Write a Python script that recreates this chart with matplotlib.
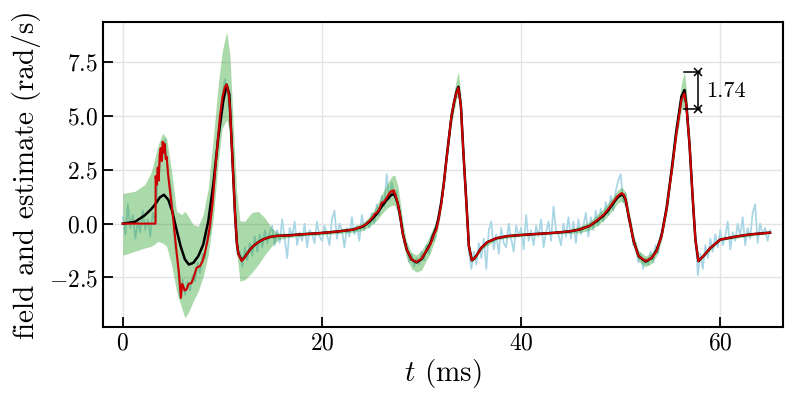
import numpy as np
import matplotlib
matplotlib.use("Agg")
import matplotlib.pyplot as plt

plt.rcParams['font.family'] = 'serif'
plt.rcParams['font.serif'] = ['cmr10']
plt.rcParams['mathtext.fontset'] = 'cm'
plt.rcParams['axes.formatter.use_mathtext'] = True

# noisy measurement, sampled every 0.25 ms from 0 to 65 ms
t_meas = np.arange(0, 65.01, 0.25)
meas = [
    0.3, -0.5, 0.9, -0.2, 0.4, -0.7, 0.1, -0.4, 0.6, -0.3, 0.2, -0.6, 0.5, 0.1, 2.0, 2.9, 3.1, 3.9, 2.4, 1.9,
    0.8, -1.1, -1.7, -3.5, -2.6, -3.3, -2.7, -3.1, -2.4, -2.7, -1.8, -2.3, -1.4, -1.6, -0.4, -0.5, 1.1, 2.1, 4.0, 4.8,
    6.0, 6.7, 6.1, 5.2, 3.4, 0.2, -1.4, -1.3, -2.0, -1.1, -1.7, -0.9, -1.5, -0.6, -1.3, -0.5, -1.1, -0.3, -0.9, -0.4,
    -0.1, -1.0, -0.3, -0.9, 0.2, -0.7, -1.6, -0.2, -0.6, 0.1, -1.0, -0.4, -0.8, 0.0, -1.1, -0.3, -0.5, -0.9, 0.1, -0.6,
    -0.8, -0.1, -0.5, -1.0, 0.2, 0.6, -0.7, 0.0, -0.3, -1.1, -0.2, -0.6, 0.3, -0.5, -0.1, -0.8, 0.4, -0.3, 0.1, -0.2,
    0.5, 0.0, 0.9, 0.4, 1.3, 0.8, 2.3, 1.1, 1.9, 1.2, 1.5, 0.3, 0.2, -0.9, -0.9, -1.8, -1.4, -2.0, -1.6, -1.9,
    -1.3, -1.7, -1.0, -1.4, -0.5, -0.8, 0.0, 0.1, 1.3, 1.7, 3.2, 3.8, 5.2, 5.4, 6.3, 6.1, 5.4, 2.7, 1.3, -1.3,
    -2.1, -1.3, -1.9, -0.9, -1.6, -0.7, -2.1, -0.3, 0.1, -1.2, -0.5, -1.4, -0.2, -0.9, -1.1, 0.0, -0.7, -1.3, -0.1, -0.6,
    -0.2, -1.2, 0.4, -0.8, -0.3, -1.0, -0.1, -0.6, 0.2, -1.1, -0.4, 0.1, -0.8, 0.8, -0.3, -0.5, -1.0, 0.0, -0.6, 0.3,
    -0.7, 0.1, -0.9, 0.2, -0.5, -0.1, 0.5, -0.6, 0.3, -0.3, 0.6, -0.1, 0.7, 0.1, 1.0, 0.4, 1.3, 0.6, 1.5, 2.0,
    2.3, 1.0, 1.4, 0.2, 0.1, -1.0, -0.9, -1.8, -1.4, -2.1, -1.6, -1.9, -1.3, -1.8, -1.0, -1.4, -0.5, -0.3, 0.6, 0.8,
    2.1, 2.6, 4.2, 4.4, 5.6, 5.7, 6.2, 4.3, 3.3, 0.7, -0.5, -2.4, -1.4, -2.1, -1.0, -1.6, -0.7, -1.3, -0.5, -1.1,
    -0.3, -1.0, -0.6, 0.1, -1.2, -0.4, -0.8, 0.0, -0.6, 0.3, -1.0, -0.2, -0.7, 0.5, 0.9, -0.9, 0.0, -0.5, -0.2, -0.8, -0.3,
]

# true field
t_field = [0, 3.28, 3.29, 3.4, 3.5, 3.6, 3.7, 3.8, 3.9, 4.0, 4.1, 4.2, 4.3, 4.4, 4.56, 4.79, 5.06, 5.33, 5.63, 5.83,
           5.95, 6.06, 6.2, 6.4, 6.6, 6.9, 7.1, 7.4, 7.74, 8.0, 8.24, 8.5, 8.74, 9.0, 9.25, 9.5, 9.75, 10.0, 10.25, 10.42,
           10.6, 10.75, 11.0, 11.26, 11.45, 11.6, 11.93, 12.2, 12.43, 12.75, 13.1, 13.6, 14.1, 14.77, 15.45, 16.78, 17.8, 19.8, 21.5, 23.1,
           24.1, 24.5, 24.8, 25.1, 25.3, 25.5, 25.7, 26.0, 26.2, 26.5, 26.8, 27.0, 27.1, 27.2, 27.4, 27.6, 27.8, 28.1, 28.5, 29.0,
           29.5, 30.0, 30.5, 30.9, 31.2, 31.5, 31.75, 32.0, 32.25, 32.5, 32.75, 33.0, 33.25, 33.5, 33.7, 33.95, 34.2, 34.5, 34.75, 35.05,
           35.3, 35.56, 36.0, 36.6, 37.5, 38.6, 39.9, 41.5, 43.2, 44.9, 45.9, 46.9, 47.6, 48.3, 48.8, 49.3, 49.7, 50.1, 50.3, 50.5,
           50.8, 51.3, 51.8, 52.5, 53.1, 53.6, 54.1, 54.6, 55.1, 55.6, 56.1, 56.4, 56.6, 56.9, 57.2, 57.5, 57.8, 58.3, 59.0, 60.0,
           61.7, 63.0, 64.7, 65.0]
field = [0, 0, 2.2, 1.8, 2.6, 2.0, 3.2, 3.5, 2.9, 3.8, 3.3, 3.7, 3.0, 3.1, 2.2, 1.3, 0.2, -1.05, -2.3, -3.44,
         -2.8, -2.9, -3.1, -3.05, -2.8, -2.75, -2.5, -2.05, -1.97, -1.75, -1.35, -0.8, -0.1, 0.9, 2.36, 3.7, 4.98, 5.85, 6.35, 6.45,
         6.1, 5.45, 2.98, 0.5, -0.9, -1.4, -1.73, -1.6, -1.42, -1.22, -1.04, -0.86, -0.73, -0.62, -0.57, -0.55, -0.5, -0.44, -0.37, -0.28,
         -0.12, 0.0, 0.15, 0.3, 0.45, 0.5, 0.62, 0.97, 1.0, 1.2, 1.44, 1.52, 1.45, 1.55, 1.29, 0.95, 0.5, -0.44, -1.2, -1.67,
         -1.78, -1.62, -1.25, -0.95, -0.55, -0.25, 0.3, 0.97, 1.9, 2.98, 4.0, 4.99, 5.6, 6.07, 6.3, 5.45, 3.3, 0.97, -1.04, -1.7,
         -1.62, -1.45, -1.12, -0.86, -0.68, -0.58, -0.53, -0.48, -0.43, -0.36, -0.27, -0.1, 0.15, 0.42, 0.7, 1.03, 1.28, 1.42, 1.35, 1.11,
         0.34, -0.82, -1.51, -1.74, -1.59, -1.28, -0.59, 0.65, 2.35, 4.2, 5.74, 6.05, 5.43, 3.74, 1.42, -0.74, -1.74, -1.51, -1.13, -0.74,
         -0.59, -0.5, -0.43, -0.42]

# posterior mean estimate
t_est = [0, 1.21, 2.21, 2.8, 3.22, 3.72, 4.12, 4.56, 4.96, 5.39, 5.8, 6.23, 6.63, 7.07, 7.57, 8.07, 8.58, 9.08, 9.58, 10.08,
         10.42, 10.69, 11.0, 11.26, 11.45, 11.6, 11.93, 12.2, 12.43, 12.75, 13.1, 13.6, 14.1, 14.77, 15.45, 16.78, 17.8, 19.8, 21.5, 23.1,
         24.1, 24.8, 25.5, 26.0, 26.5, 27.0, 27.3, 27.6, 27.8, 28.1, 28.5, 29.0, 29.5, 30.0, 30.5, 30.9, 31.2, 31.5, 31.75, 32.0,
         32.25, 32.5, 32.75, 33.0, 33.25, 33.5, 33.7, 33.95, 34.2, 34.5, 34.75, 35.05, 35.3, 35.56, 36.0, 36.6, 37.5, 38.6, 39.9, 41.5,
         43.2, 44.9, 45.9, 46.9, 47.6, 48.3, 48.8, 49.3, 49.7, 50.1, 50.3, 50.5, 50.8, 51.3, 51.8, 52.5, 53.1, 53.6, 54.1, 54.6,
         55.1, 55.6, 56.1, 56.4, 56.6, 56.9, 57.2, 57.5, 57.8, 58.3, 59.0, 60.0, 61.7, 63.0, 64.7, 65.0]
est = [0, 0.08, 0.39, 0.65, 0.88, 1.22, 1.34, 1.11, 0.57, -0.28, -1.05, -1.66, -1.9, -1.82, -1.51, -0.97, 0.12, 1.82, 3.98, 5.68,
       6.45, 5.99, 3.0, 0.5, -0.9, -1.4, -1.7, -1.58, -1.42, -1.22, -1.04, -0.86, -0.73, -0.62, -0.57, -0.54, -0.5, -0.44, -0.37, -0.28,
       -0.14, 0.1, 0.45, 0.8, 1.1, 1.35, 1.35, 0.95, 0.5, -0.44, -1.2, -1.67, -1.8, -1.65, -1.25, -0.9, -0.5, -0.15, 0.4, 1.05,
       1.95, 3.0, 4.0, 4.95, 5.6, 6.1, 6.35, 5.45, 3.3, 0.97, -1.04, -1.7, -1.62, -1.45, -1.12, -0.86, -0.68, -0.58, -0.53, -0.48,
       -0.43, -0.36, -0.27, -0.1, 0.12, 0.38, 0.65, 0.98, 1.22, 1.35, 1.3, 1.08, 0.34, -0.82, -1.51, -1.76, -1.6, -1.25, -0.55, 0.7,
       2.45, 4.35, 5.9, 6.2, 5.5, 3.74, 1.42, -0.74, -1.74, -1.51, -1.13, -0.74, -0.59, -0.5, -0.43, -0.42]

# credible band
t_band = [0.0, 0.2, 1.21, 2.21, 2.88, 3.55, 3.99, 4.39, 4.89, 5.39, 5.9, 6.23, 6.57, 7.07, 7.57, 8.07, 8.58, 9.08, 9.58, 9.98,
          10.42, 10.75, 11.09, 11.42, 11.76, 12.26, 12.93, 13.6, 14.27, 14.94, 15.61, 16.5, 17.8, 19.8, 21.5, 23.1, 24.1, 24.8, 25.5, 26.0,
          26.5, 27.0, 27.3, 27.6, 27.8, 28.1, 28.5, 29.0, 29.5, 30.0, 30.5, 30.9, 31.5, 32.0, 32.5, 33.0, 33.5, 33.7, 33.95, 34.2,
          34.5, 34.75, 35.05, 36.0, 37.5, 40.0, 43.2, 44.9, 45.9, 46.9, 47.6, 48.3, 48.8, 49.3, 49.7, 50.1, 50.5, 50.8, 51.3, 51.8,
          52.5, 53.1, 53.6, 54.1, 54.6, 55.1, 55.6, 56.1, 56.4, 56.6, 56.9, 57.2, 57.5, 57.8, 58.3, 60.0, 65.0]
band_hi = [1.4, 1.42, 1.5, 1.81, 2.42, 3.66, 4.2, 3.97, 2.42, 0.57, 0.42, 0.57, 0.34, -0.05, -0.12, 0.42, 1.66, 3.97, 6.45, 8.0,
           8.91, 7.83, 4.58, 1.5, 0.12, 0.12, 0.51, 0.57, 0.26, -0.2, -0.45, -0.45, -0.42, -0.36, -0.28, -0.16, 0.04, 0.35, 0.85, 1.35,
           1.8, 2.2, 2.25, 1.8, 1.2, 0.1, -0.85, -1.35, -1.45, -1.25, -0.85, -0.5, 0.2, 1.4, 3.3, 5.4, 6.7, 7.05, 6.0, 3.6,
           1.2, -0.9, -1.6, -1.04, -0.62, -0.48, -0.38, -0.27, -0.12, 0.1, 0.4, 0.7, 1.0, 1.3, 1.55, 1.7, 1.45, 0.7, -0.5, -1.25,
           -1.5, -1.35, -1.0, -0.3, 0.95, 2.8, 4.8, 6.5, 7.05, 6.2, 4.0, 1.6, -0.6, -1.68, -1.46, -0.7, -0.39]
band_lo = [-1.45, -1.44, -1.28, -1.13, -1.05, -0.82, -0.9, -1.05, -1.9, -3.13, -3.9, -4.37, -4.14, -3.6, -3.13, -2.44, -1.44, 0.26, 2.88, 4.43,
           4.81, 4.27, 1.81, -1.28, -2.67, -2.6, -2.29, -1.9, -1.44, -1.05, -0.75, -0.65, -0.58, -0.52, -0.46, -0.4, -0.32, -0.12, 0.15, 0.45,
           0.7, 0.85, 0.85, 0.5, 0.1, -0.8, -1.6, -2.1, -2.25, -2.15, -1.7, -1.35, -0.55, 0.7, 2.7, 4.6, 5.8, 5.9, 5.0, 2.9,
           0.7, -1.2, -1.8, -1.2, -0.74, -0.58, -0.48, -0.45, -0.42, -0.3, -0.1, 0.15, 0.4, 0.7, 0.95, 1.05, 0.75, 0.0, -1.1, -1.75,
           -2.0, -1.85, -1.5, -0.8, 0.4, 2.1, 3.9, 5.3, 5.31, 5.0, 3.5, 1.2, -0.85, -1.8, -1.56, -0.78, -0.45]

# width annotation at the last peak
ann_t0, ann_t = 56.4, 57.8
ann_lo, ann_hi = 5.31, 7.02
ann_text = '1.74'

fig, ax = plt.subplots(figsize=(7.89, 3.95), dpi=100)
fig.subplots_adjust(left=0.1305, right=0.9924, bottom=0.172, top=0.944)

ax.plot(t_meas, meas, color='#a9d6e5', lw=1.25, zorder=2)
ax.fill_between(t_band, band_lo, band_hi, color='tab:green', alpha=0.4, lw=0, zorder=3)
ax.plot(t_est, est, color='k', lw=1.8, zorder=4)
ax.plot(t_field, field, color='#cc0000', lw=1.5, zorder=5)

# bracket showing band width
ax.plot([ann_t0, ann_t + 0.2], [ann_hi, ann_hi], color='k', lw=1.1, zorder=6)
ax.plot([ann_t0, ann_t + 0.2], [ann_lo, ann_lo], color='k', lw=1.1, zorder=6)
ax.plot([ann_t, ann_t], [ann_lo, ann_hi], color='k', lw=1.1, marker='x', ms=6, mew=1.1, zorder=6)
ax.text(ann_t + 0.8, (ann_lo + ann_hi) / 2, ann_text, fontsize=16, va='center', ha='left')

ax.set_xlim(-2, 66.3)
ax.set_ylim(-4.8, 9.35)
ax.set_xticks([0, 20, 40, 60])
ax.set_yticks([-2.5, 0.0, 2.5, 5.0, 7.5])
ax.grid(True, color='#e3e3e3', lw=1.0, zorder=0)
ax.set_axisbelow(True)
ax.tick_params(direction='in', length=7, width=1.3, labelsize=17)
for s in ax.spines.values():
    s.set_linewidth(1.5)
ax.set_xlabel(r'$t$ (ms)', fontsize=21, labelpad=2)
ax.set_ylabel('field and estimate (rad/s)', fontsize=21, labelpad=6)

fig.savefig('out.png', dpi=100)
